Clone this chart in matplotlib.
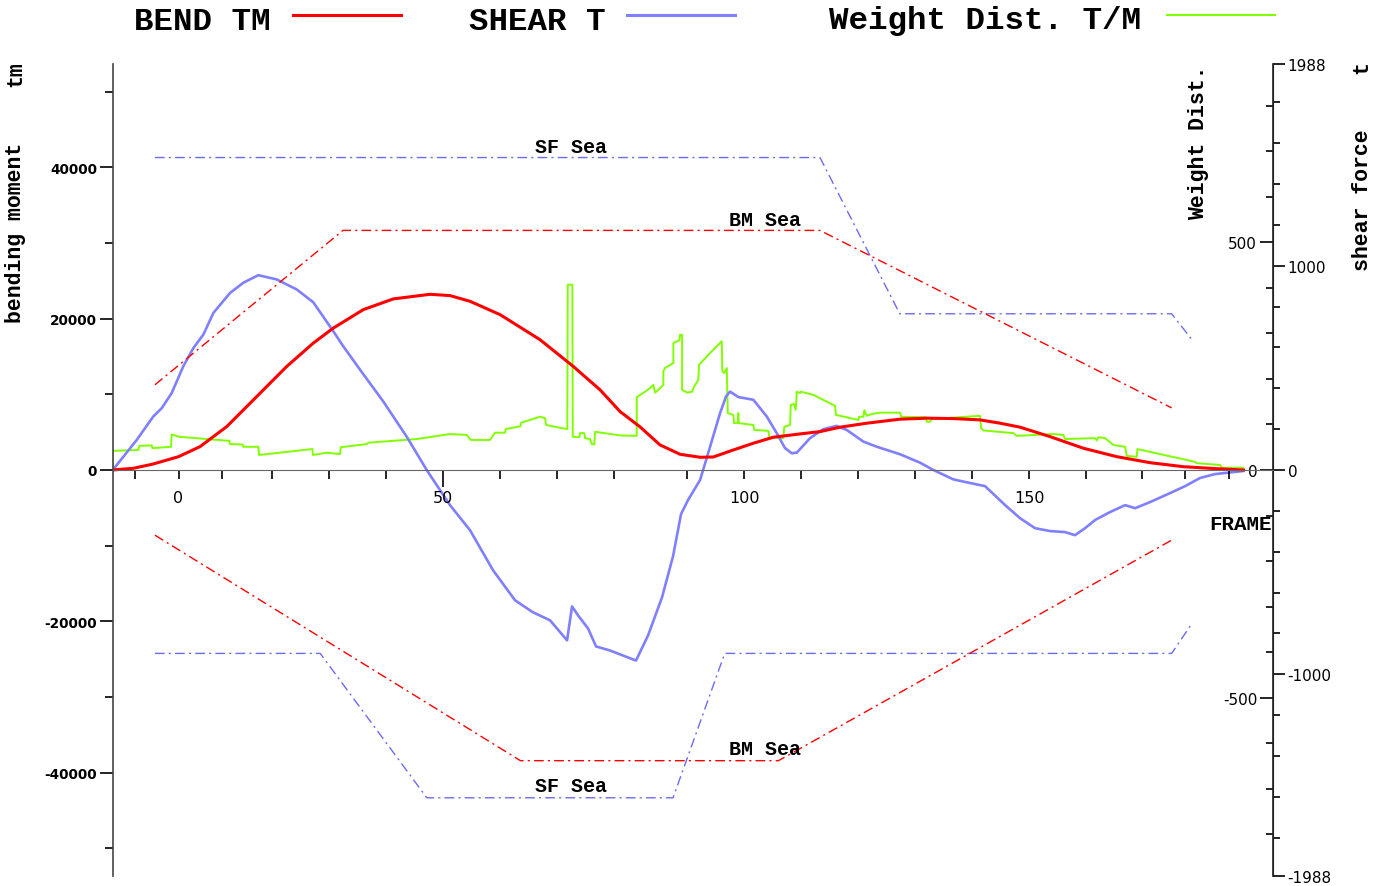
import matplotlib.pyplot as plt
from matplotlib.lines import Line2D

W_PX, H_PX = 1387, 887
MONO = 'Liberation Mono'

# frame numbers and their position along the ship (m from frame 0)
frames = [-10, 0, 10, 20, 30, 40, 50, 60, 70, 80, 90, 100, 110, 120, 130, 140, 150, 160, 170, 180, 190]
frame_x = [-5.4, 0.0, 5.4, 11.5, 18.5, 25.5, 32.5, 39.5, 46.5, 53.5, 62.5, 69.5, 76.5, 83.5,
           90.5, 97.5, 104.5, 111.5, 118.4, 123.7, 129.0]
frame_labels = {0: '0', 50: '50', 100: '100', 150: '150'}

# bending moment (tm)
bm_x = [-8.1, -5.55, -3.1, 0.0, 2.64, 5.92, 9.61, 13.29, 16.56, 19.02, 22.7, 26.39, 30.9, 33.35,
        35.81, 39.5, 44.41, 48.5, 51.78, 54.24, 56.7, 59.15, 61.61, 64.07, 65.7, 68.16, 70.61,
        73.07, 76.35, 78.81, 81.27, 84.55, 88.64, 91.92, 95.18, 98.46, 100.92, 103.38, 107.06,
        111.16, 115.26, 119.35, 123.44, 127.54, 130.81]
bm = [0, 225, 795, 1762, 3086, 5735, 9708, 13682, 16771, 18758, 21192, 22609, 23218, 23046,
      22291, 20530, 17218, 13682, 10596, 7722, 5695, 3311, 2079, 1682, 1722, 2649, 3536,
      4331, 4768, 5073, 5656, 6185, 6715, 6848, 6795, 6623, 6185, 5656, 4410,
      2874, 1762, 967, 437, 172, 0]

# shear force (t)
sf_x = [-8.08, -5.14, -3.1, -2.06, -0.84, 0.59, 1.82, 3.05, 4.28, 6.33, 7.96, 9.8, 12.06, 14.52,
        16.56, 19.02, 20.25, 22.3, 25.16, 28.03, 30.49, 31.3, 33.35, 35.81, 38.64, 41.34, 43.55,
        45.64, 47.73, 48.34, 49.08, 50.31, 51.29, 53.01, 56.2, 57.68, 59.4, 60.75, 61.73, 62.59,
        64.07, 65.3, 66.52, 67.26, 67.75, 68.77, 70.61, 72.26, 73.49, 74.51, 75.33, 75.95,
        77.58, 79.21, 80.86, 82.09, 84.13, 85.77, 88.64, 91.09, 92.73, 95.18, 97.85, 99.08,
        101.54, 103.38, 105.22, 107.06, 108.9, 110.13, 111.36, 112.59, 114.43, 116.28, 117.51,
        119.35, 121.81, 123.65, 125.49, 127.33, 130.8]
sf = [0, 147, 262, 303, 377, 508, 597, 663, 769, 867, 917, 954, 933, 884,
      821, 679, 605, 491, 335, 163, 0, -49, -172, -295, -491, -638, -697,
      -736, -834, -668, -712, -776, -864, -884, -933, -810, -623, -422, -216, -147,
      -49, 114, 278, 360, 384, 357, 344, 262, 180, 107, 82, 85,
      156, 200, 216, 196, 139, 114, 77, 36, 0, -46, -69, -79,
      -172, -236, -285, -299, -304, -319, -285, -245, -206, -172, -187,
      -157, -113, -79, -39, -20, -5]

# weight distribution (t/m)
wd_x = [-8.08, -8.08, -4.94, -4.82, -3.29, -3.22, -0.92, -0.84, 0.06, 6.24, 6.33, 7.89, 7.96,
        9.8, 9.89, 16.44, 16.52, 18.21, 19.84, 19.93, 23.12, 23.32, 29.26, 33.35, 35.41, 35.9,
        38.27, 38.88, 39.5, 40.1, 40.2, 42.0, 42.1, 44.41, 45.02, 45.15, 47.08, 47.76, 47.81,
        48.38, 48.43, 49.24, 49.32, 49.85, 49.94, 50.55, 50.76, 51.08, 51.17, 54.24, 56.29,
        56.29, 57.31, 57.92, 58.33, 58.54, 58.94, 59.56, 59.56, 59.77, 60.79, 60.79, 61.52,
        61.61, 61.86, 61.86, 62.51, 63.08, 63.33, 63.86, 63.94, 65.3, 66.73, 66.81, 67.01,
        67.35, 67.47, 68.16, 68.24, 68.7, 68.77, 68.82, 70.61, 70.74, 72.46, 72.58, 74.3,
        74.42, 75.12, 75.21, 75.61, 75.82, 75.95, 76.35, 76.47, 77.99, 79.21, 80.65, 80.77,
        83.51, 83.6, 84.13, 84.25, 84.55, 85.16, 86.18, 88.64, 88.76, 91.83, 91.92, 92.32,
        92.53, 98.46, 98.59, 98.87, 102.56, 102.97, 107.47, 108.7, 108.91, 112.59, 112.8,
        113.0, 113.82, 114.84, 116.28, 116.49, 117.71, 117.79, 124.85, 125.06, 127.95,
        128.16, 130.81, 130.81]
wd = [0, 42, 44, 53, 54, 48, 51, 78, 73, 64, 57, 56, 51,
      51, 33, 46, 33, 38, 35, 50, 57, 60, 68, 79, 77, 66,
      66, 82, 82, 82, 90, 96, 104, 117, 114, 99, 92, 90, 407,
      407, 73, 72, 81, 81, 70, 68, 57, 56, 84, 76, 75,
      160, 172, 180, 187, 170, 176, 187, 217, 224, 235, 279, 285,
      297, 297, 176, 170, 172, 183, 198, 231, 257, 283, 217, 213,
      224, 125, 121, 103, 103, 125, 103, 99, 88, 86, 72, 70,
      95, 99, 143, 145, 132, 172, 169, 172, 165, 154, 141, 121,
      110, 117, 117, 131, 119, 123, 126, 126, 117, 116, 106, 106,
      112, 119, 92, 87, 81, 75, 79, 77, 68, 70, 65,
      72, 70, 55, 51, 31, 29, 46, 18, 15, 11,
      5, 5, 0]

# permissible sea-going limits
bm_sea_top_x = [-2.9, 20.2, 78.8, 122.0]
bm_sea_top = [11260, 31660, 31660, 8210]
bm_sea_bot_x = [-2.9, 42.0, 73.7, 122.0]
bm_sea_bot = [-8610, -38410, -38410, -9270]
sf_sea_top_x = [-2.9, 78.8, 88.6, 122.0, 124.5]
sf_sea_top = [1530, 1530, 765, 765, 638]
sf_sea_bot_x = [-2.9, 17.4, 30.5, 60.75, 67.1, 122.0, 124.5]
sf_sea_bot = [-898, -898, -1605, -1605, -898, -898, -751]


def fx(px):
    return px / W_PX


def fy(py):
    return 1 - py / H_PX


rect = [fx(113), fy(877), fx(1273) - fx(113), fy(65) - fy(877)]
fig = plt.figure(figsize=(W_PX / 100, H_PX / 100), dpi=100)
ax = fig.add_axes(rect)
ax_sf = ax.twinx()
ax_wd = ax.twinx()
ax_wd.set_zorder(1)
ax_sf.set_zorder(2)
ax.set_zorder(3)
ax.patch.set_visible(False)

dashdot = (0, (7, 3, 1.5, 3))

# weight distribution, its axis sits on the right edge with ticks pointing left
ax_wd.plot(wd_x, wd, color='#80ff00', lw=1.4)
ax_wd.set_ylim(-892, 892)
ax_wd.yaxis.tick_left()
ax_wd.spines['left'].set_position(('axes', 1.0))
for s in ['top', 'right', 'bottom']:
    ax_wd.spines[s].set_visible(False)
ax_wd.spines['left'].set_color('#222222')
ax_wd.set_yticks([-500, 0, 500], ['-500', '0', '500'])
ax_wd.set_yticks([v for v in range(-800, 801, 100) if v not in (-500, 0, 500)], minor=True)
ax_wd.tick_params(axis='y', which='major', length=9.4, width=1.2, pad=2, labelsize=11)
ax_wd.tick_params(axis='y', which='minor', length=5, width=1.2)

# shear force
ax_sf.plot(sf_x, sf, color='#8080ff', lw=1.9)
ax_sf.plot(sf_sea_top_x, sf_sea_top, color='#6c6cf0', lw=1, ls=dashdot)
ax_sf.plot(sf_sea_bot_x, sf_sea_bot, color='#6c6cf0', lw=1, ls=dashdot)
ax_sf.set_ylim(-1988, 1988)
for s in ['top', 'left', 'bottom']:
    ax_sf.spines[s].set_visible(False)
ax_sf.spines['right'].set_color('#222222')
ax_sf.spines['right'].set_linewidth(1.2)
ax_sf.set_yticks([-1988, -1000, 0, 1000, 1988], ['-1988', '-1000', '0', '1000', '1988'])
ax_sf.set_yticks([v for v in range(-1800, 1801, 200) if v % 1000 != 0], minor=True)
ax_sf.tick_params(axis='y', which='major', length=8.6, width=1.2, pad=2, labelsize=11)
ax_sf.tick_params(axis='y', which='minor', length=5, width=1.2)

# bending moment
ax.plot(bm_x, bm, color='#ff0000', lw=2.2)
ax.plot(bm_sea_top_x, bm_sea_top, color='#ff0000', lw=1, ls=dashdot)
ax.plot(bm_sea_bot_x, bm_sea_bot, color='#ff0000', lw=1, ls=dashdot)
ax.set_xlim(-8.05, 134.45)
ax.set_ylim(-53650, 53650)
for s in ['top', 'right']:
    ax.spines[s].set_visible(False)
ax.spines['bottom'].set_position(('data', 0))
ax.spines['bottom'].set_color('#666666')
ax.spines['left'].set_color('#444444')
ax.spines['left'].set_linewidth(1.2)
ax.set_yticks([-40000, -20000, 0, 20000, 40000], ['-40000', '-20000', '0', '20000', '40000'],
              fontweight='bold')
ax.set_yticks([-50000, -30000, -10000, 10000, 30000, 50000], minor=True)
ax.tick_params(axis='y', which='major', length=9.4, width=1.2, pad=2, labelsize=9.8)
ax.tick_params(axis='y', which='minor', length=5.5, width=1.2)
ax.set_xticks(frame_x, [frame_labels.get(f, '') for f in frames])
ax.tick_params(axis='x', which='major', length=6.5, width=1.2, pad=8, labelsize=11.5)
ax.xaxis.get_major_ticks()[frames.index(50)].tick1line.set_markersize(12)

lab = dict(family=MONO, fontweight='bold', fontsize=14.4, ha='center', va='baseline')
ax_sf.annotate('SF Sea', (48.2, 1530), xytext=(0, 4), textcoords='offset points', **lab)
ax_sf.annotate('SF Sea', (48.2, -1605), xytext=(0, 5), textcoords='offset points', **lab)
ax.annotate('BM Sea', (72.05, 31660), xytext=(0, 4), textcoords='offset points', **lab)
ax.annotate('BM Sea', (72.05, -38410), xytext=(0, 5), textcoords='offset points', **lab)

# axis titles
side = dict(family=MONO, fontweight='bold', fontsize=15.5, rotation=90, ha='center', va='center')
fig.text(fx(16), fy(233), 'bending moment', **side)
fig.text(fx(16), fy(74), 'tm', **side)
fig.text(fx(1199), fy(143), 'Weight Dist.', **side)
fig.text(fx(1362), fy(200), 'shear force', **side)
fig.text(fx(1362), fy(68), 't', **side)
fig.text(fx(1272), fy(525), 'FRAME', family=MONO, fontweight='bold', fontsize=15,
         ha='right', va='center')

# legend across the top
legend = [('BEND TM', 134, 293, 401, '#ff0000', 2.2),
          ('SHEAR T', 469, 627, 735, '#8080ff', 2.2),
          ('Weight Dist. T/M', 829, 1167, 1275, '#80ff00', 1.5)]
for text, tx, x0, x1, col, lw in legend:
    fig.text(fx(tx), fy(29.5), text, family=MONO, fontweight='bold', fontsize=23.4,
             ha='left', va='baseline')
    fig.add_artist(Line2D([fx(x0), fx(x1)], [fy(16), fy(16)], color=col, lw=lw,
                          transform=fig.transFigure))

fig.savefig('out.png', dpi=100)
